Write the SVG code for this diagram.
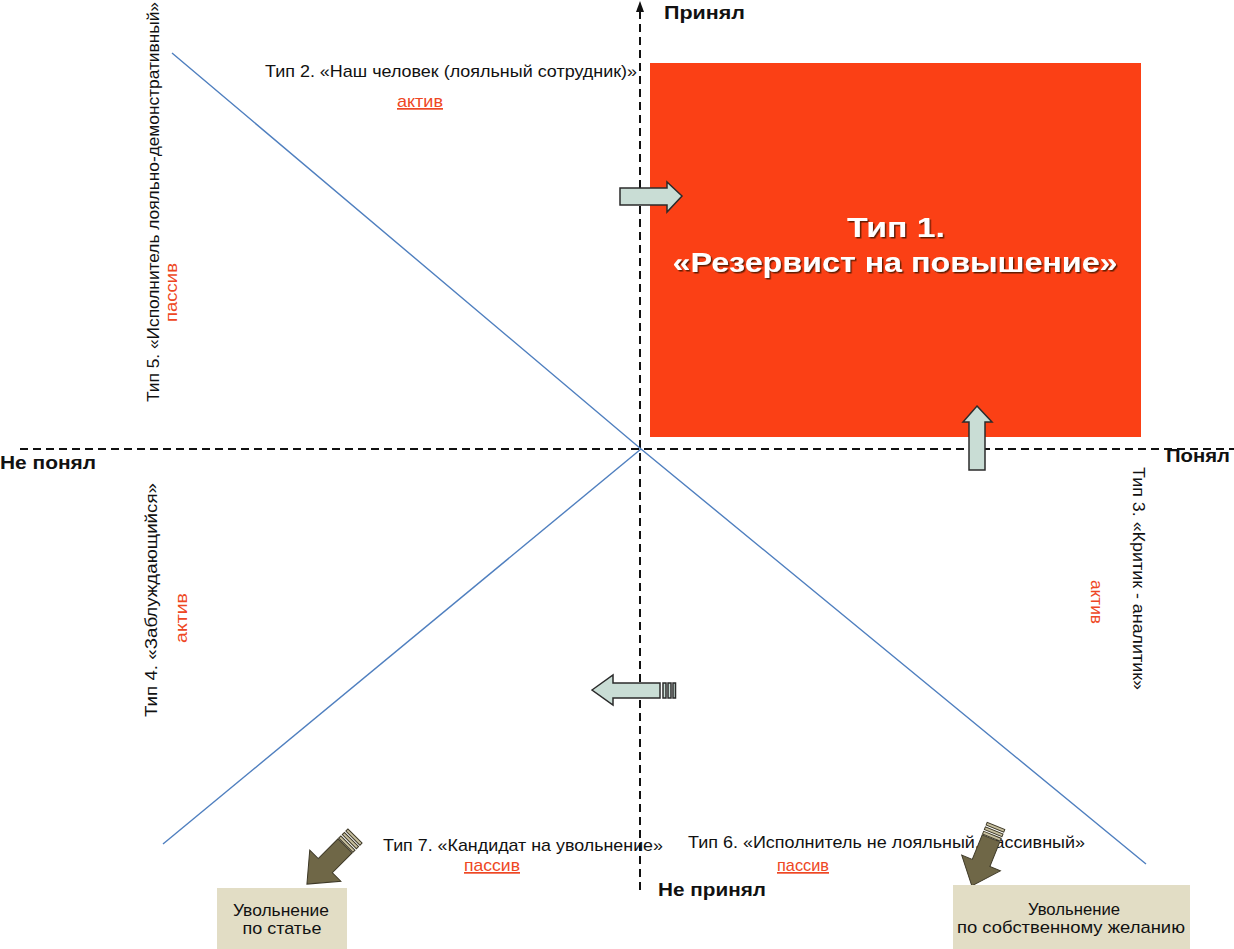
<svg xmlns="http://www.w3.org/2000/svg" xmlns:xlink="http://www.w3.org/1999/xlink" width="1234" height="949" viewBox="0 0 1234 949">
<defs>
<style>
text{font-family:"Liberation Sans",Arial,sans-serif;}
.lbl{font-size:17px;fill:#111;}
.ax{font-size:18px;font-weight:bold;fill:#111;}
.red{font-size:17px;fill:#ee4723;}
.ul{text-decoration:underline;}
.axis{stroke:#111;stroke-width:2;stroke-dasharray:8 5;fill:none;}
.diag{stroke:#4f7fbf;stroke-width:1.4;fill:none;}
.la{fill:#c9ddd5;stroke:#2b2b2b;stroke-width:1.5;}
.da{fill:#6f6747;stroke:#3d3826;stroke-width:1;}
.ds{fill:#c8c0a0;stroke:#3d3826;stroke-width:1;}
.box{fill:#e2ddc5;}
.bt{font-size:17px;fill:#111;}
.t1{font-size:28px;font-weight:bold;fill:#fff;}
</style>
<filter id="sh" x="-10%" y="-30%" width="120%" height="160%">
<feDropShadow dx="1.5" dy="1.5" stdDeviation="0.7" flood-color="#4a1200" flood-opacity="0.85"/>
</filter>
<g id="darrow">
<rect class="ds" x="0" y="-10" width="3" height="20"/>
<rect class="ds" x="5" y="-10" width="3" height="20"/>
<rect class="ds" x="10" y="-10" width="3" height="20"/>
<polygon class="da" points="14,-10 42,-10 42,-22 68,0 42,22 42,10 14,10"/>
</g>
</defs>
<rect width="1234" height="949" fill="#fff"/>

<g id="type1">
<rect x="650" y="63" width="491" height="374" fill="#fb4015"/>
<text class="t1" x="896" y="237" text-anchor="middle" filter="url(#sh)" textLength="98" lengthAdjust="spacingAndGlyphs">Тип 1.</text>
<text class="t1" x="895" y="272" text-anchor="middle" filter="url(#sh)" textLength="445" lengthAdjust="spacingAndGlyphs">«Резервист на повышение»</text>
</g>

<g id="connectors">
<line class="axis" x1="640" y1="890" x2="640" y2="12"/>
<polygon points="640,1 636,12 644,12" fill="#111"/>
<line class="axis" x1="20" y1="449" x2="1234" y2="449"/>
<polyline class="diag" points="172,53 641,449 1146,864"/>
<line class="diag" x1="641" y1="449" x2="163" y2="844"/>
</g>

<g id="arrows">
<polygon class="la" points="620,188 667,188 667,182 682,196 667,212 667,205 620,205"/>
<polygon class="la" points="977,406 992,422 985,422 985,470 969,470 969,422 963,422"/>
<g id="arrow-left">
<polygon class="la" points="592,690 613,675 613,683 660,683 660,698 613,698 613,705"/>
<rect class="la" x="663" y="683" width="3" height="15"/>
<rect class="la" x="668" y="683" width="3" height="15"/>
<rect class="la" x="673" y="683" width="2.5" height="15"/>
</g>
</g>

<g id="axis-labels">
<text class="ax" x="664" y="19" textLength="81" lengthAdjust="spacingAndGlyphs">Принял</text>
<text class="ax" x="0" y="469" textLength="96" lengthAdjust="spacingAndGlyphs">Не понял</text>
<text class="ax" x="1166" y="462" textLength="64" lengthAdjust="spacingAndGlyphs">Понял</text>
<text class="ax" x="658" y="896" textLength="108" lengthAdjust="spacingAndGlyphs">Не принял</text>
</g>

<g id="type2">
<text class="lbl" x="265" y="77" textLength="372" lengthAdjust="spacingAndGlyphs">Тип 2. «Наш человек (лояльный сотрудник)»</text>
<text class="red ul" x="397" y="107" textLength="46" lengthAdjust="spacingAndGlyphs">актив</text>
</g>

<g id="type5">
<text class="lbl" transform="translate(159,402) rotate(-90)" x="0" y="0" textLength="400" lengthAdjust="spacingAndGlyphs">Тип 5. «Исполнитель лояльно-демонстративный»</text>
<text class="red" transform="translate(177,322) rotate(-90)" x="0" y="0" textLength="59" lengthAdjust="spacingAndGlyphs">пассив</text>
</g>

<g id="type4">
<text class="lbl" transform="translate(157,717) rotate(-90)" x="0" y="0" textLength="234" lengthAdjust="spacingAndGlyphs">Тип 4. «Заблуждающийся»</text>
<text class="red" transform="translate(187,643) rotate(-90)" x="0" y="0" textLength="50" lengthAdjust="spacingAndGlyphs">актив</text>
</g>

<g id="type3">
<text class="lbl" transform="translate(1133,467) rotate(90)" x="0" y="0" textLength="223" lengthAdjust="spacingAndGlyphs">Тип 3. «Критик - аналитик»</text>
<text class="red" transform="translate(1091,580) rotate(90)" x="0" y="0" textLength="44" lengthAdjust="spacingAndGlyphs">актив</text>
</g>

<g id="type7">
<text class="lbl" x="383" y="851" textLength="280" lengthAdjust="spacingAndGlyphs">Тип 7. «Кандидат на увольнение»</text>
<text class="red ul" x="464" y="871" textLength="56" lengthAdjust="spacingAndGlyphs">пассив</text>
</g>

<g id="type6">
<text class="lbl" x="688" y="848" textLength="397" lengthAdjust="spacingAndGlyphs">Тип 6. «Исполнитель не лояльный, пассивный»</text>
<text class="red ul" x="777" y="871" textLength="52" lengthAdjust="spacingAndGlyphs">пассив</text>
</g>

<g id="dark-arrows">
<use xlink:href="#darrow" href="#darrow" transform="translate(355,836) rotate(135)"/>
<use xlink:href="#darrow" href="#darrow" transform="translate(996,826) rotate(112) scale(0.95)"/>
</g>

<g id="dismiss-article">
<rect class="box" x="217" y="888" width="130" height="61"/>
<text class="bt" x="281" y="916" text-anchor="middle" textLength="96" lengthAdjust="spacingAndGlyphs">Увольнение</text>
<text class="bt" x="282" y="934" text-anchor="middle" textLength="79" lengthAdjust="spacingAndGlyphs">по статье</text>
</g>

<g id="dismiss-own">
<rect class="box" x="953" y="885" width="237" height="64"/>
<text class="bt" x="1074" y="915" text-anchor="middle" textLength="92" lengthAdjust="spacingAndGlyphs">Увольнение</text>
<text class="bt" x="1071" y="933" text-anchor="middle" textLength="228" lengthAdjust="spacingAndGlyphs">по собственному желанию</text>
</g>
</svg>
